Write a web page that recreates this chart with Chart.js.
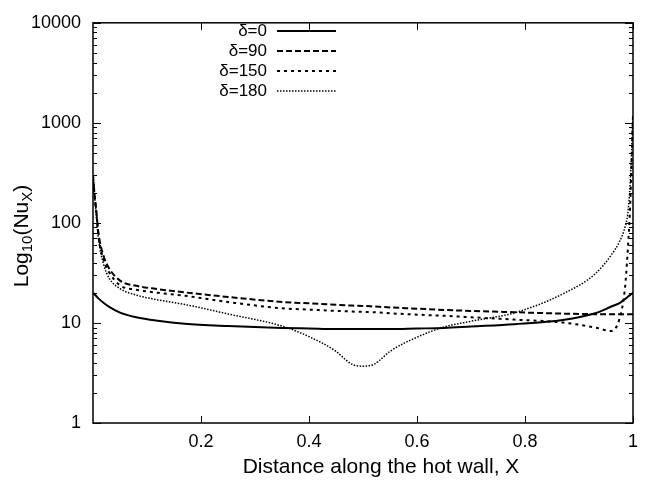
<!DOCTYPE html>
<html>
<head>
<meta charset="utf-8">
<script src="https://cdn.jsdelivr.net/npm/chart.js@4/dist/chart.umd.min.js"></script>
<style>
  body { margin: 0; background: #fff; }
  #wrap { width: 646px; height: 481px; }
</style>
</head>
<body>
<div id="wrap"><canvas id="grafico" width="646" height="481"></canvas></div>
<script>
// posições ao longo da parede quente (X)
const posX = [0, 0.003, 0.006, 0.01, 0.02, 0.03, 0.05, 0.08, 0.12, 0.17, 0.25, 0.35, 0.40, 0.45, 0.47, 0.48,
              0.50, 0.52, 0.53, 0.55, 0.60, 0.65, 0.70, 0.78, 0.87, 0.93, 0.96, 0.975, 0.985, 0.99, 0.995, 1.0];

// Nu_X para cada ângulo
const nuDelta0   = [20, 19.3, 18.6, 17.6, 15.8, 14.5, 12.7, 11.4, 10.5, 9.8, 9.3, 8.9, 8.8, 8.7, 8.7, 8.7,
                    8.7, 8.7, 8.7, 8.7, 8.8, 8.9, 9.2, 9.7, 10.7, 12.5, 14.6, 15.8, 17.3, 18.2, 19.1, 20];
const nuDelta90  = [300, 190, 135, 80, 46, 35, 26.5, 23.5, 21.8, 20.2, 18.2, 16.2, 15.7, 15.2, 15.0, 14.9,
                    14.8, 14.6, 14.5, 14.3, 13.9, 13.5, 13.2, 12.8, 12.4, 12.25, 12.2, 12.2, 12.2, 12.2, 12.2, 12.2];
const nuDelta150 = [300, 185, 130, 75, 42, 32, 23.8, 21.5, 20.0, 18.7, 16.2, 14.0, 13.6, 13.2, 13.1, 13.0,
                    12.9, 12.8, 12.7, 12.5, 12.1, 11.8, 11.4, 10.8, 10.1, 9.0, 8.3, 11, 22, 50, 160, 1200];
const nuDelta180 = [300, 180, 120, 70, 38, 28, 22, 19.0, 17.0, 15.3, 12.3, 9.3, 7.3, 5.2, 4.2, 3.85,
                    3.7, 3.85, 4.2, 5.2, 7.2, 9.1, 10.4, 12.6, 19.5, 31, 48, 65, 90, 120, 260, 1200];

const rotulos = ['δ=0', 'δ=90', 'δ=150', 'δ=180'];
const tracos = [[], [6, 3], [3, 4], [1.5, 1.5]];
const espessuras = [2, 2, 2, 1.5];
const ticksX = [0.2, 0.4, 0.6, 0.8, 1];
const decadasY = [1, 10, 100, 1000, 10000];

const fonte = "'Liberation Sans', Arial, sans-serif";

function montarPontos(ys) {
    return posX.map((x, i) => ({ x: x, y: ys[i] }));
}

const series = [nuDelta0, nuDelta90, nuDelta150, nuDelta180];
const datasets = series.map((ys, i) => ({
    label: rotulos[i],
    data: montarPontos(ys),
    borderColor: '#000',
    borderWidth: espessuras[i],
    borderDash: tracos[i],
    pointRadius: 0,
    cubicInterpolationMode: 'monotone',
    fill: false
}));

// moldura, marcas internas, legenda e títulos dos eixos
const estiloGnuplot = {
    id: 'estiloGnuplot',
    afterDraw(chart) {
        const ctx = chart.ctx;
        const a = chart.chartArea;
        const sx = chart.scales.x, sy = chart.scales.y;
        ctx.save();
        ctx.strokeStyle = '#000';
        ctx.lineWidth = 1.5;
        ctx.setLineDash([]);
        ctx.strokeRect(a.left, a.top, a.right - a.left, a.bottom - a.top);

        ctx.lineWidth = 1;
        ctx.beginPath();
        ticksX.forEach(v => {
            const px = Math.round(sx.getPixelForValue(v)) + 0.5;
            ctx.moveTo(px, a.bottom); ctx.lineTo(px, a.bottom - 7);
            ctx.moveTo(px, a.top); ctx.lineTo(px, a.top + 7);
        });
        decadasY.forEach((d, k) => {
            for (let m = 1; m <= 9; m++) {
                const v = d * m;
                if (v > 10000 || (k === decadasY.length - 1 && m > 1)) continue;
                const py = Math.round(sy.getPixelForValue(v)) + 0.5;
                const len = m === 1 ? 8 : 4;
                ctx.moveTo(a.left, py); ctx.lineTo(a.left + len, py);
                ctx.moveTo(a.right, py); ctx.lineTo(a.right - len, py);
            }
        });
        ctx.stroke();

        // legenda
        ctx.font = '17px ' + fonte;
        ctx.fillStyle = '#000';
        ctx.textAlign = 'right';
        ctx.textBaseline = 'middle';
        rotulos.forEach((r, i) => {
            const y = 31 + i * 20;
            ctx.fillText(r, 267, y);
            ctx.beginPath();
            ctx.setLineDash(tracos[i]);
            ctx.lineWidth = espessuras[i];
            ctx.moveTo(277, y); ctx.lineTo(336, y);
            ctx.stroke();
        });
        ctx.setLineDash([]);

        // título do eixo x
        ctx.textAlign = 'center';
        ctx.font = '21px ' + fonte;
        ctx.fillText('Distance along the hot wall, X', 381, 467);

        // título do eixo y com subscritos
        ctx.translate(22, 236);
        ctx.rotate(-Math.PI / 2);
        const partes = [['Log', 21, 0], ['10', 15, 6], ['(Nu', 21, 0], ['X', 15, 6], [')', 21, 0]];
        let total = 0;
        partes.forEach(p => { ctx.font = p[1] + 'px ' + fonte; total += ctx.measureText(p[0]).width; });
        let cx = -total / 2;
        ctx.textAlign = 'left';
        partes.forEach(p => {
            ctx.font = p[1] + 'px ' + fonte;
            ctx.fillText(p[0], cx, p[2]);
            cx += ctx.measureText(p[0]).width;
        });
        ctx.restore();
    }
};

const config = {
    type: 'line',
    data: { datasets: datasets },
    options: {
        responsive: false,
        animation: false,
        layout: { padding: { top: 14, right: 4, left: 0, bottom: 0 } },
        plugins: { legend: { display: false }, tooltip: { enabled: false } },
        scales: {
            x: {
                type: 'linear',
                min: 0,
                max: 1,
                afterFit: s => { s.height = 58; },
                grid: { display: false, drawTicks: false },
                border: { display: false },
                ticks: {
                    stepSize: 0.2,
                    padding: 8,
                    color: '#000',
                    font: { family: fonte, size: 18 },
                    maxRotation: 0,
                    callback: v => (v === 0 ? '' : String(Number(v.toFixed(1))))
                }
            },
            y: {
                type: 'logarithmic',
                min: 1,
                max: 10000,
                afterFit: s => { s.width = 93; },
                grid: { display: false, drawTicks: false },
                border: { display: false },
                ticks: {
                    autoSkip: false,
                    padding: 12,
                    color: '#000',
                    font: { family: fonte, size: 18 },
                    callback: v => (decadasY.includes(v) ? String(v) : '')
                }
            }
        }
    },
    plugins: [estiloGnuplot]
};

document.addEventListener('DOMContentLoaded', function () {
    const ctx = document.getElementById('grafico').getContext('2d');
    new Chart(ctx, config);
});
</script>
</body>
</html>
